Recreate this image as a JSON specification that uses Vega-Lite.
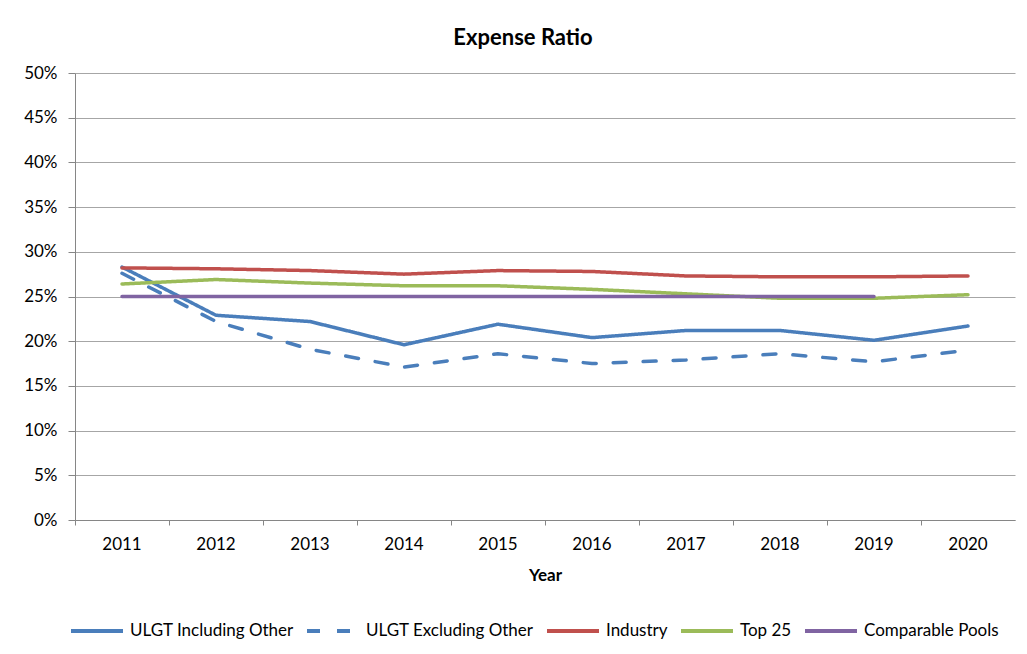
{
  "$schema": "https://vega.github.io/schema/vega-lite/v6.json",
  "autosize": "none",
  "width": 940,
  "height": 447,
  "padding": {"left": 75, "top": 73, "right": 12, "bottom": 134},
  "background": "white",
  "title": {
    "text": "Expense Ratio",
    "font": "Lato",
    "fontSize": 22,
    "fontWeight": "bold",
    "color": "#000000",
    "anchor": "middle",
    "dx": -22,
    "offset": 14
  },
  "data": {
    "values": [
      {"year": "2011", "series": "ULGT Including Other", "value": 0.283},
      {"year": "2012", "series": "ULGT Including Other", "value": 0.229},
      {"year": "2013", "series": "ULGT Including Other", "value": 0.222},
      {"year": "2014", "series": "ULGT Including Other", "value": 0.196},
      {"year": "2015", "series": "ULGT Including Other", "value": 0.219},
      {"year": "2016", "series": "ULGT Including Other", "value": 0.204},
      {"year": "2017", "series": "ULGT Including Other", "value": 0.212},
      {"year": "2018", "series": "ULGT Including Other", "value": 0.212},
      {"year": "2019", "series": "ULGT Including Other", "value": 0.201},
      {"year": "2020", "series": "ULGT Including Other", "value": 0.217},
      {"year": "2011", "series": "ULGT Excluding Other", "value": 0.276},
      {"year": "2012", "series": "ULGT Excluding Other", "value": 0.222},
      {"year": "2013", "series": "ULGT Excluding Other", "value": 0.191},
      {"year": "2014", "series": "ULGT Excluding Other", "value": 0.171},
      {"year": "2015", "series": "ULGT Excluding Other", "value": 0.186},
      {"year": "2016", "series": "ULGT Excluding Other", "value": 0.175},
      {"year": "2017", "series": "ULGT Excluding Other", "value": 0.179},
      {"year": "2018", "series": "ULGT Excluding Other", "value": 0.186},
      {"year": "2019", "series": "ULGT Excluding Other", "value": 0.177},
      {"year": "2020", "series": "ULGT Excluding Other", "value": 0.190},
      {"year": "2011", "series": "Industry", "value": 0.282},
      {"year": "2012", "series": "Industry", "value": 0.281},
      {"year": "2013", "series": "Industry", "value": 0.279},
      {"year": "2014", "series": "Industry", "value": 0.275},
      {"year": "2015", "series": "Industry", "value": 0.279},
      {"year": "2016", "series": "Industry", "value": 0.278},
      {"year": "2017", "series": "Industry", "value": 0.273},
      {"year": "2018", "series": "Industry", "value": 0.272},
      {"year": "2019", "series": "Industry", "value": 0.272},
      {"year": "2020", "series": "Industry", "value": 0.273},
      {"year": "2011", "series": "Top 25", "value": 0.264},
      {"year": "2012", "series": "Top 25", "value": 0.269},
      {"year": "2013", "series": "Top 25", "value": 0.265},
      {"year": "2014", "series": "Top 25", "value": 0.262},
      {"year": "2015", "series": "Top 25", "value": 0.262},
      {"year": "2016", "series": "Top 25", "value": 0.258},
      {"year": "2017", "series": "Top 25", "value": 0.253},
      {"year": "2018", "series": "Top 25", "value": 0.248},
      {"year": "2019", "series": "Top 25", "value": 0.248},
      {"year": "2020", "series": "Top 25", "value": 0.252},
      {"year": "2011", "series": "Comparable Pools", "value": 0.25},
      {"year": "2012", "series": "Comparable Pools", "value": 0.25},
      {"year": "2013", "series": "Comparable Pools", "value": 0.25},
      {"year": "2014", "series": "Comparable Pools", "value": 0.25},
      {"year": "2015", "series": "Comparable Pools", "value": 0.25},
      {"year": "2016", "series": "Comparable Pools", "value": 0.25},
      {"year": "2017", "series": "Comparable Pools", "value": 0.25},
      {"year": "2018", "series": "Comparable Pools", "value": 0.25},
      {"year": "2019", "series": "Comparable Pools", "value": 0.25}
    ]
  },
  "mark": {"type": "line", "strokeWidth": 3.5, "strokeCap": "round", "strokeJoin": "round"},
  "encoding": {
    "x": {
      "field": "year",
      "type": "ordinal",
      "scale": {"type": "band", "paddingInner": 0, "paddingOuter": 0},
      "axis": {
        "title": "Year",
        "titleFont": "Lato",
        "titleFontSize": 17,
        "titleFontWeight": "bold",
        "titleColor": "#000000",
        "titlePadding": 15,
        "labelFont": "Lato",
        "labelFontSize": 17,
        "labelColor": "#000000",
        "labelAngle": 0,
        "labelPadding": 11,
        "bandPosition": 0,
        "tickSize": 5,
        "tickColor": "#868686",
        "domainColor": "#868686",
        "grid": false
      }
    },
    "y": {
      "field": "value",
      "type": "quantitative",
      "scale": {"domain": [0, 0.5], "nice": false},
      "axis": {
        "title": null,
        "format": ".0%",
        "values": [0, 0.05, 0.1, 0.15, 0.2, 0.25, 0.3, 0.35, 0.4, 0.45, 0.5],
        "labelFont": "Lato",
        "labelFontSize": 17,
        "labelColor": "#000000",
        "labelPadding": 11,
        "tickSize": 7,
        "tickColor": "#868686",
        "domainColor": "#868686",
        "grid": true,
        "gridColor": "#a6a6a6",
        "gridWidth": 1
      }
    },
    "color": {
      "field": "series",
      "type": "nominal",
      "scale": {
        "domain": ["ULGT Including Other", "ULGT Excluding Other", "Industry", "Top 25", "Comparable Pools"],
        "range": ["#4a7ebb", "#4a7ebb", "#c0504d", "#9bbb59", "#8064a2"]
      },
      "legend": {
        "title": null,
        "orient": "none",
        "direction": "horizontal",
        "legendX": -6,
        "legendY": 530,
        "gridAlign": "none",
        "symbolType": "stroke",
        "symbolSize": 2704,
        "symbolStrokeWidth": 4,
        "labelFont": "Lato",
        "labelFontSize": 17,
        "labelLimit": 400,
        "labelColor": "#000000",
        "labelOffset": 5,
        "columnPadding": 5
      }
    },
    "strokeDash": {
      "field": "series",
      "type": "nominal",
      "scale": {
        "domain": ["ULGT Including Other", "ULGT Excluding Other", "Industry", "Top 25", "Comparable Pools"],
        "range": [[1, 0], [13, 17], [1, 0], [1, 0], [1, 0]]
      },
      "legend": {
        "title": null,
        "orient": "none",
        "direction": "horizontal",
        "legendX": -6,
        "legendY": 530,
        "gridAlign": "none",
        "symbolType": "stroke",
        "symbolSize": 2704,
        "symbolStrokeWidth": 4,
        "labelFont": "Lato",
        "labelFontSize": 17,
        "labelLimit": 400,
        "labelColor": "#000000",
        "labelOffset": 5,
        "columnPadding": 5
      }
    }
  },
  "config": {
    "view": {"stroke": null}
  }
}
